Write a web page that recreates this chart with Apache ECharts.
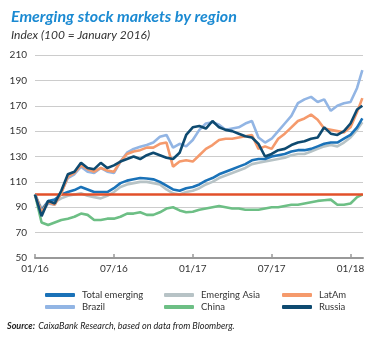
<!DOCTYPE html>
<html>
<head>
<meta charset="utf-8">
<script src="https://cdn.jsdelivr.net/npm/echarts@6/dist/echarts.min.js"></script>
<style>
html,body{margin:0;padding:0;background:#fff;}
#chart{width:375px;height:338px;}
</style>
</head>
<body>
<div id="chart"></div>
<script>
// x positions in months since January 2016 (half-month steps)
var months = [0,0.5,1,1.5,2,2.5,3,3.5,4,4.5,5,5.5,6,6.5,7,7.5,8,8.5,9,9.5,10,10.5,11,11.5,12,12.5,13,13.5,14,14.5,15,15.5,16,16.5,17,17.5,18,18.5,19,19.5,20,20.5,21,21.5,22,22.5,23,23.5,24,24.5,24.9];
var xTickLabels = ['01/16','07/16','01/17','07/17','01/18'];
var xTickValues = [0,6,12,18,24];

var totalEmerging = [100,87,95,96,100,102,103.5,106,104,102,102,102,105,109,111,112,113,112.7,112,110,107,104,103,105,106,108,111,113,116,118,120,122,124,127,128,128,130,131,132,134,135,135,136,138,140,141,141,144,147,153,160];
var emergingAsia = [100,89,94,94,97,99,100,101,99,98,97,99,102,106,108,109,110,110,109,108,104,101,100,102,103,105,108,110,113,115,117,119,121,124,125,126,127,128,129,131,132,132,134,136,138,139,138,141,145,151,157];
var latAm = [100,86,94,92,101,114,117,123,120,118,121,119,118,126,132,134,135,137,137,140,141,122,126,127,126,131,136,139,143,144,144,145,146,147,136,138,136,144,148,153,158,160,163,159,152,151,150,149,153,165,176];
var brazil = [100,86,93,92,102,113,116,122,118,117,121,118,117,126,133,136,137.6,139,141,145.5,147,137,140,138,143,151,156,157,155,151,152,153,156,158,145,141,144,150,156,162,172,175,177,173,175,166,170,172,173,184,198];
var china = [100,78,76,78,80,81,82.5,85,84,80,80,81,81,82.5,85,85,86,84,84,86,89,90,87.5,86,86.5,88,89,90,91,90,89,89,88,88,88,89,90,90,91,92,92,93,94,95,95.5,96,92,92,93,98,100];
var russia = [100,83,95,93,103,116,118,125,121,120,125,121,123,126,128,130,128,131,133,131,129,128,133,147,153,154,152,158,153,151,150,148,146,145,140,130,132,135,136,139,141,142,144,145,153,148,147,150,156,167,170];
var yTicks = {min:50, max:210, interval:20};
var referenceLevel = 100;

function pairs(vals){ return months.map(function(m,i){ return [m, vals[i]]; }); }

var chart = echarts.init(document.getElementById('chart'));
var FONT = 'Lato';
function line(name, vals, color, z, extra){
  var s = {name:name, type:'line', data:pairs(vals), showSymbol:false, symbol:'none',
    lineStyle:{color:color, width:2.6}, itemStyle:{color:color}, z:z, animation:false};
  if (extra) for (var k in extra) s[k]=extra[k];
  return s;
}
var legendBase = {orient:'vertical', top:285, itemWidth:30, itemHeight:4, icon:'roundRect', itemGap:2,
  textStyle:{fontFamily:FONT, fontSize:9.5, color:'#333', padding:[0,0,0,2]}};
function lg(left, data){ var o = JSON.parse(JSON.stringify(legendBase)); o.left=left; o.data=data; return o; }

chart.setOption({
  backgroundColor:'#fff',
  animation:false,
  title:{left:6, top:4, text:'Emerging stock markets by region',
    textStyle:{fontFamily:FONT, fontStyle:'italic', fontWeight:'bold', fontSize:16, color:'#1b8ad2'},
    subtext:'Index (100 = January 2016)', itemGap:4,
    subtextStyle:{fontFamily:FONT, fontStyle:'italic', fontSize:12, color:'#333'}},
  grid:{left:35, right:12, top:55, bottom:80},
  legend:[lg(40,['Total emerging','Brazil']), lg(159,['Emerging Asia','China']), lg(277,['LatAm','Russia'])],
  xAxis:{type:'value', min:0, max:24.95,
    axisLine:{show:true, lineStyle:{color:'#999', width:2}},
    axisTick:{show:true, inside:true, length:4, customValues:xTickValues, lineStyle:{color:'#999', width:1.5}},
    axisLabel:{customValues:xTickValues, formatter:function(v){ var i=xTickValues.indexOf(v); return i>=0?xTickLabels[i]:''; },
      fontFamily:FONT, fontSize:10, color:'#333', margin:6},
    splitLine:{show:false}},
  yAxis:{type:'value', min:yTicks.min, max:yTicks.max, interval:yTicks.interval,
    axisLine:{show:false}, axisTick:{show:false},
    axisLabel:{fontFamily:FONT, fontSize:10, color:'#333', margin:8},
    splitLine:{lineStyle:{color:'#cccccc', width:1}}},
  series:[
    line('Emerging Asia', emergingAsia, '#b7c3c6', 2),
    line('Total emerging', totalEmerging, '#1a72b8', 3),
    line('China', china, '#6dbf85', 4),
    line('Brazil', brazil, '#92b5e4', 5),
    line('LatAm', latAm, '#f59a6c', 6),
    line('Russia', russia, '#0e4a70', 7, {markLine:{silent:true, symbol:['none','none'], label:{show:false},
      lineStyle:{color:'#e2502a', width:2.5, type:'solid'}, data:[{yAxis:referenceLevel}]}})
  ],
  graphic:[{type:'text', left:7, top:320, style:{
    text:'{b|Source:} {n|CaixaBank Research, based on data from Bloomberg.}',
    rich:{b:{fontFamily:FONT, fontStyle:'italic', fontWeight:'bold', fontSize:9, fill:'#222'},
          n:{fontFamily:FONT, fontStyle:'italic', fontSize:9, fill:'#222'}}}}]
});
</script>
</body>
</html>
